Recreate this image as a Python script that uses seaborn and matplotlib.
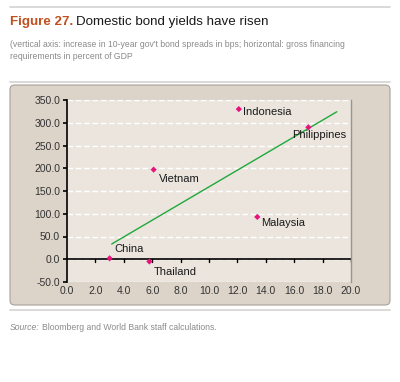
import numpy as np
import matplotlib
matplotlib.use("Agg")
import matplotlib.pyplot as plt
from matplotlib.patches import FancyBboxPatch
from matplotlib.lines import Line2D
import seaborn as sns

# data
countries = ["China", "Thailand", "Vietnam", "Indonesia", "Philippines", "Malaysia"]
financing = [3.0, 5.8, 6.1, 12.1, 17.0, 13.4]
spread_increase = [2, -5, 197, 330, 290, 93]
trend_range = [3.15, 19.0]
# label offsets in pixels (dx, dy)
label_offsets = [(5, 9), (4, -10), (5, -9), (4, -3), (-16, -8), (4, -6)]

sns.set_theme(style="white")
plt.rcParams["font.family"] = ["Liberation Sans", "DejaVu Sans"]

fig = plt.figure(figsize=(4.0, 3.82), dpi=100)
W, H = 400, 382

def fx(px):
    return px / W

def fy(py):
    return 1 - py / H

# rules
for yy in [7, 82, 310]:
    fig.add_artist(Line2D([fx(10), fx(390)], [fy(yy), fy(yy)], color="#d6d2d2", lw=1.2))

# panel
panel = FancyBboxPatch((fx(10), fy(305)), fx(380), (305 - 85) / H,
                       boxstyle="round,pad=0,rounding_size=0.012",
                       transform=fig.transFigure, facecolor="#dcd3c9",
                       edgecolor="#a8a29a", lw=0.8, zorder=0)
fig.add_artist(panel)

# title texts
t1 = fig.text(fx(10), fy(25), "Figure 27.", color="#c0501e", fontsize=9.6,
              fontweight="bold", va="baseline")
fig.canvas.draw()
bb = t1.get_window_extent()
fig.text(bb.x1 / W + fx(3), fy(25), "Domestic bond yields have risen",
         color="#1a1a1a", fontsize=9.6, va="baseline")
fig.text(fx(10), fy(47), "(vertical axis: increase in 10-year gov't bond spreads in bps; horizontal: gross financing",
         color="#8a8a8a", fontsize=6.25, va="baseline")
fig.text(fx(10), fy(59), "requirements in percent of GDP", color="#8a8a8a", fontsize=6.25, va="baseline")
s1 = fig.text(fx(10), fy(330), "Source:", color="#8a8a8a", fontsize=6.2, style="italic", va="baseline")
fig.canvas.draw()
bb = s1.get_window_extent()
fig.text(bb.x1 / W + fx(2), fy(330), "Bloomberg and World Bank staff calculations.",
         color="#8a8a8a", fontsize=6.2, va="baseline")

# axes
ax = fig.add_axes([fx(67), fy(282), fx(284), (282 - 100) / H])
ax.set_facecolor("#ebe5de")
ax.set_xlim(0, 20)
ax.set_ylim(-50, 350)
ax.set_yticks(np.arange(-50, 351, 50))
ax.set_xticks(np.arange(0, 20.1, 2))
ax.yaxis.grid(True, color="white", linestyle=(0, (4, 2)), lw=1.0)
ax.set_axisbelow(True)

for side in ["top", "bottom"]:
    ax.spines[side].set_visible(False)
ax.spines["right"].set_color("#9a948c")
ax.spines["right"].set_linewidth(1.0)
ax.spines["left"].set_color("black")
ax.spines["left"].set_linewidth(1.2)

# zero x-axis line
ax.axhline(0, color="black", lw=1.2, zorder=2)
for xt in np.arange(2, 20.1, 2):
    ax.plot([xt, xt], [0, -6], color="black", lw=1.0, zorder=2)

ax.tick_params(axis="y", which="major", left=True, length=3, width=1.2, color="black",
               labelsize=7.5, labelcolor="#333333", pad=2)
ax.tick_params(axis="x", which="major", bottom=False, length=0, labelsize=7.5,
               labelcolor="#333333", pad=3)
ax.set_yticklabels([f"{v:.1f}" for v in np.arange(-50, 351, 50)])
ax.set_xticklabels([f"{v:.1f}" for v in np.arange(0, 20.1, 2)])

# trendline (least squares)
slope, intercept = np.polyfit(financing, spread_increase, 1)
tx = np.array(trend_range)
sns.lineplot(x=tx, y=slope * tx + intercept, ax=ax, color="#1fa83c", lw=1.0, zorder=3)

# points
sns.scatterplot(x=financing, y=spread_increase, ax=ax, color="#e8127c", marker="D",
                s=10, edgecolor="none", zorder=4)

for name, x, y, (dx, dy) in zip(countries, financing, spread_increase, label_offsets):
    ax.annotate(name, (x, y), xytext=(dx * 0.72, dy * 0.72), textcoords="offset points",
                fontsize=8, color="#1a1a1a", va="center", ha="left", zorder=5)

ax.set_xlabel("")
ax.set_ylabel("")
fig.savefig("out.png", dpi=100, facecolor="white")
